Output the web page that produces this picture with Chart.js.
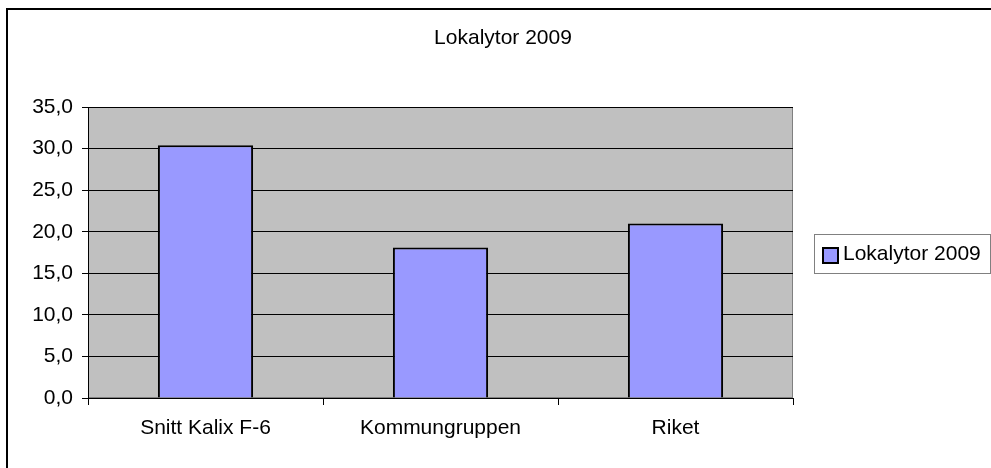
<!DOCTYPE html>
<html><head><meta charset="utf-8">
<style>html,body{margin:0;padding:0;background:#fff}canvas{display:block}</style>
<script src="https://cdn.jsdelivr.net/npm/chart.js@4/dist/chart.umd.min.js"></script>
</head><body>
<canvas id="c" width="991" height="468" style="width:991px;height:468px"></canvas>
<script>
const chartTitle = 'Lokalytor 2009';
const seriesName = 'Lokalytor 2009';
const categories = ['Snitt Kalix F-6', 'Kommungruppen', 'Riket'];
const values = [30.4, 18.1, 21.0];
const yTickLabels = ['0,0', '5,0', '10,0', '15,0', '20,0', '25,0', '30,0', '35,0'];

const FONT = '"Liberation Sans", Arial, sans-serif';
const barColor = '#9999FF';

const decor = {
  id: 'decor',
  beforeDraw(chart) {
    const { ctx, chartArea: a } = chart;
    ctx.save();
    ctx.fillStyle = '#fff';
    ctx.fillRect(0, 0, chart.width, chart.height);
    ctx.fillStyle = '#C0C0C0';
    ctx.fillRect(a.left, a.top, a.right - a.left, a.bottom - a.top);
    ctx.strokeStyle = '#808080';
    ctx.lineWidth = 1;
    ctx.strokeRect(a.left + 0.5, a.top + 0.5, a.right - a.left - 1, a.bottom - a.top - 1);
    ctx.restore();
  },
  afterDraw(chart) {
    const { ctx } = chart;
    ctx.save();
    // outer chart frame (cropped: left and top edges only)
    ctx.strokeStyle = '#000';
    ctx.lineWidth = 2;
    ctx.beginPath();
    ctx.moveTo(7, chart.height);
    ctx.lineTo(7, 9);
    ctx.lineTo(chart.width, 9);
    ctx.stroke();
    // title
    ctx.fillStyle = '#000';
    ctx.font = '21px ' + FONT;
    ctx.textAlign = 'center';
    ctx.textBaseline = 'alphabetic';
    ctx.fillText(chartTitle, 503, 44);
    // legend
    ctx.strokeStyle = '#808080';
    ctx.lineWidth = 1;
    ctx.strokeRect(814.5, 234.5, 176, 39);
    ctx.fillStyle = barColor;
    ctx.fillRect(823, 248, 15, 15);
    ctx.strokeStyle = '#000';
    ctx.lineWidth = 2;
    ctx.strokeRect(823, 248, 15, 15);
    ctx.fillStyle = '#000';
    ctx.textAlign = 'left';
    ctx.fillText(seriesName, 843, 260);
    ctx.restore();
  }
};

new Chart(document.getElementById('c'), {
  type: 'bar',
  data: {
    labels: categories,
    datasets: [{
      label: seriesName,
      data: values,
      backgroundColor: barColor,
      borderColor: '#000',
      borderWidth: 2,
      barPercentage: 0.405,
      categoryPercentage: 1.0
    }]
  },
  options: {
    responsive: false,
    animation: false,
    devicePixelRatio: 1,
    layout: { padding: { top: 107, right: 198, left: 0, bottom: 0 } },
    plugins: { legend: { display: false }, title: { display: false }, tooltip: { enabled: false } },
    scales: {
      x: {
        afterFit(s) { s.height = 70; },
        grid: { display: true, drawOnChartArea: false, drawTicks: true, tickLength: 7, color: '#000', offset: true },
        border: { display: true, color: '#000', width: 1 },
        ticks: { color: '#000', font: { family: FONT, size: 21 }, padding: 11, maxRotation: 0 }
      },
      y: {
        min: 0, max: 35,
        afterFit(s) { s.width = 88; },
        grid: { color: '#000', lineWidth: 1, tickLength: 6 },
        border: { display: true, color: '#000', width: 1 },
        ticks: {
          stepSize: 5, color: '#000', font: { family: FONT, size: 21 }, padding: 9,
          callback: (v, i) => yTickLabels[i]
        }
      }
    }
  },
  plugins: [decor]
});
</script>
</body></html>
